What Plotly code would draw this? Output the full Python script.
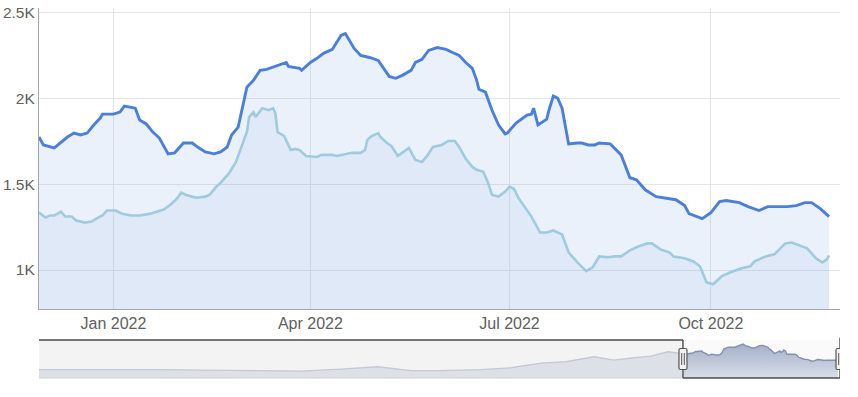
import plotly.graph_objects as go

# ---------------- data ----------------
dark_dates = [
    "2021-11-28", "2021-11-30", "2021-12-05", "2021-12-08", "2021-12-11", "2021-12-14",
    "2021-12-17", "2021-12-20", "2021-12-23", "2021-12-26", "2021-12-27", "2022-01-01",
    "2022-01-04", "2022-01-06", "2022-01-11", "2022-01-13", "2022-01-16", "2022-01-19",
    "2022-01-22", "2022-01-26", "2022-01-29", "2022-02-02", "2022-02-06", "2022-02-09",
    "2022-02-12", "2022-02-16", "2022-02-19", "2022-02-22", "2022-02-24", "2022-02-27",
    "2022-03-03", "2022-03-06", "2022-03-09", "2022-03-12", "2022-03-15", "2022-03-21",
    "2022-03-22", "2022-03-27", "2022-03-28", "2022-04-01", "2022-04-04", "2022-04-07",
    "2022-04-11", "2022-04-13", "2022-04-15", "2022-04-17", "2022-04-19", "2022-04-21",
    "2022-04-24", "2022-04-28", "2022-05-02", "2022-05-05", "2022-05-07", "2022-05-10",
    "2022-05-13", "2022-05-17", "2022-05-19", "2022-05-22", "2022-05-25", "2022-05-29",
    "2022-06-02", "2022-06-05", "2022-06-08", "2022-06-11", "2022-06-14", "2022-06-16",
    "2022-06-17", "2022-06-20", "2022-06-23", "2022-06-26", "2022-06-29", "2022-06-30",
    "2022-07-04", "2022-07-09", "2022-07-11", "2022-07-12", "2022-07-14", "2022-07-18",
    "2022-07-19", "2022-07-21", "2022-07-23", "2022-07-25", "2022-07-28", "2022-08-01",
    "2022-08-03", "2022-08-06", "2022-08-09", "2022-08-11", "2022-08-16", "2022-08-21",
    "2022-08-25", "2022-08-28", "2022-09-01", "2022-09-06", "2022-09-12", "2022-09-15",
    "2022-09-19", "2022-09-21", "2022-09-27", "2022-10-01", "2022-10-05", "2022-10-08",
    "2022-10-14", "2022-10-18", "2022-10-23", "2022-10-27", "2022-10-31", "2022-11-05",
    "2022-11-09", "2022-11-13", "2022-11-16", "2022-11-20", "2022-11-24",
]
dark_values = [
    1774, 1728, 1711, 1745, 1774, 1797,
    1786, 1797, 1844, 1884, 1907, 1907,
    1919, 1954, 1942, 1873, 1850, 1803,
    1768, 1676, 1682, 1739, 1739, 1711,
    1687, 1676, 1687, 1716, 1786, 1832,
    2064, 2104, 2162, 2168, 2180, 2208,
    2185, 2174, 2162, 2208, 2232, 2261,
    2284, 2324, 2365, 2376, 2336, 2290,
    2249, 2237, 2220, 2162, 2127, 2116,
    2133, 2162, 2208, 2226, 2278, 2295,
    2284, 2266, 2249, 2208, 2174, 2104,
    2052, 2035, 1930, 1844, 1792, 1797,
    1855, 1902, 1907, 1942, 1844, 1878,
    1930, 2012, 2000, 1942, 1734, 1739,
    1739, 1728, 1728, 1739, 1734, 1670,
    1537, 1525, 1467, 1427, 1415, 1409,
    1375, 1328, 1299, 1334, 1398, 1404,
    1392, 1369, 1346, 1369, 1369, 1369,
    1375, 1392, 1392, 1357, 1311,
]

light_dates = [
    "2021-11-28", "2021-12-01", "2021-12-03", "2021-12-05", "2021-12-08", "2021-12-10",
    "2021-12-13", "2021-12-15", "2021-12-19", "2021-12-22", "2021-12-25", "2021-12-27",
    "2021-12-29", "2022-01-02", "2022-01-05", "2022-01-09", "2022-01-13", "2022-01-18",
    "2022-01-21", "2022-01-24", "2022-01-27", "2022-01-30", "2022-02-01", "2022-02-03",
    "2022-02-06", "2022-02-08", "2022-02-12", "2022-02-14", "2022-02-17", "2022-02-19",
    "2022-02-23", "2022-02-26", "2022-02-28", "2022-03-03", "2022-03-04", "2022-03-06",
    "2022-03-07", "2022-03-10", "2022-03-13", "2022-03-15", "2022-03-16", "2022-03-17",
    "2022-03-20", "2022-03-23", "2022-03-25", "2022-03-27", "2022-03-30", "2022-04-02",
    "2022-04-04", "2022-04-06", "2022-04-11", "2022-04-13", "2022-04-16", "2022-04-20",
    "2022-04-24", "2022-04-26", "2022-04-27", "2022-04-29", "2022-05-02", "2022-05-03",
    "2022-05-06", "2022-05-08", "2022-05-11", "2022-05-13", "2022-05-16", "2022-05-19",
    "2022-05-22", "2022-05-24", "2022-05-27", "2022-05-31", "2022-06-03", "2022-06-06",
    "2022-06-08", "2022-06-11", "2022-06-14", "2022-06-16", "2022-06-19", "2022-06-21",
    "2022-06-23", "2022-06-26", "2022-06-29", "2022-07-01", "2022-07-03", "2022-07-05",
    "2022-07-08", "2022-07-11", "2022-07-15", "2022-07-18", "2022-07-21", "2022-07-25",
    "2022-07-28", "2022-07-30", "2022-08-01", "2022-08-05", "2022-08-08", "2022-08-11",
    "2022-08-15", "2022-08-18", "2022-08-21", "2022-08-25", "2022-08-28", "2022-09-02",
    "2022-09-04", "2022-09-08", "2022-09-12", "2022-09-14", "2022-09-19", "2022-09-23",
    "2022-09-26", "2022-09-29", "2022-10-02", "2022-10-06", "2022-10-10", "2022-10-15",
    "2022-10-19", "2022-10-21", "2022-10-26", "2022-10-30", "2022-11-04", "2022-11-07",
    "2022-11-09", "2022-11-14", "2022-11-18", "2022-11-21", "2022-11-23", "2022-11-24",
]
light_values = [
    1334, 1305, 1317, 1317, 1340, 1311,
    1311, 1288, 1276, 1282, 1305, 1317,
    1346, 1346, 1328, 1317, 1317, 1328,
    1340, 1352, 1380, 1415, 1450, 1438,
    1427, 1421, 1427, 1438, 1485, 1508,
    1566, 1629, 1699, 1803, 1890, 1919,
    1890, 1942, 1930, 1942, 1913, 1803,
    1780, 1699, 1705, 1699, 1664, 1658,
    1658, 1670, 1670, 1664, 1670, 1682,
    1682, 1699, 1757, 1780, 1797, 1774,
    1739, 1722, 1664, 1682, 1711, 1641,
    1629, 1658, 1716, 1728, 1751, 1751,
    1716, 1647, 1600, 1583, 1572, 1514,
    1438, 1427, 1456, 1485, 1473, 1421,
    1363, 1311, 1218, 1218, 1230, 1207,
    1103, 1074, 1044, 993, 1016, 1079,
    1074, 1079, 1079, 1114, 1132, 1155,
    1155, 1120, 1103, 1079, 1068, 1050,
    1022, 929, 917, 964, 987, 1010,
    1022, 1050, 1079, 1091, 1155, 1160,
    1149, 1126, 1068, 1044, 1062, 1085,
]

# navigator history (earlier part of the first series, read from the navigator strip)
nav_hist_dates = [
    "2017-10-19", "2018-01-25", "2018-04-28", "2018-07-30", "2018-10-31", "2019-02-02",
    "2019-05-06", "2019-06-22", "2019-09-23", "2019-12-18", "2020-03-04", "2020-05-13",
    "2020-08-14", "2020-10-23", "2021-01-01", "2021-02-28", "2021-05-05", "2021-06-20",
    "2021-08-06", "2021-09-14", "2021-10-24",
]
nav_hist_values = [
    779, 779, 810, 779, 748, 716,
    716, 685, 810, 954, 716, 716,
    779, 892, 1186, 1267, 1580, 1374,
    1518, 1624, 1893,
]

view_start = "2021-11-28"
view_end = "2022-11-29"
nav_start = "2017-10-19"

y_tick_vals = [1000, 1500, 2000, 2500]
y_tick_text = ["1K", "1.5K", "2K", "2.5K"]
x_tick_vals = ["2022-01-01", "2022-04-01", "2022-07-01", "2022-10-01"]
x_tick_text = ["Jan 2022", "Apr 2022", "Jul 2022", "Oct 2022"]

FONT = "Liberation Sans, Arial, sans-serif"

fig = go.Figure()

# main series
fig.add_trace(go.Scatter(
    x=dark_dates, y=dark_values, mode="lines",
    line=dict(color="#4a7fdc", width=2.9),
    fill="tozeroy", fillcolor="rgba(120,160,230,0.15)",
    hoverinfo="skip", showlegend=False,
))
fig.add_trace(go.Scatter(
    x=light_dates, y=light_values, mode="lines",
    line=dict(color="#9fcbdd", width=2.6),
    fill="tozeroy", fillcolor="rgba(120,165,220,0.10)",
    hoverinfo="skip", showlegend=False,
))

# navigator: unselected history, then the selected window
fig.add_trace(go.Scatter(
    x=nav_hist_dates + [dark_dates[0]], y=nav_hist_values + [dark_values[0]],
    mode="lines", xaxis="x2", yaxis="y2",
    line=dict(color="#c4c9d3", width=1.3),
    fill="tozeroy", fillcolor="#dde0e7",
    hoverinfo="skip", showlegend=False,
))
fig.add_trace(go.Scatter(
    x=dark_dates, y=dark_values,
    mode="lines", xaxis="x2", yaxis="y2",
    line=dict(color="#8391b0", width=1.4),
    fill="tozeroy",
    fillgradient=dict(type="vertical",
                      colorscale=[[0, "#dde2ec"], [1, "#a5b1ca"]]),
    hoverinfo="skip", showlegend=False,
))

OUT = "#4d4d4d"
shapes = [
    # navigator backgrounds
    dict(type="rect", xref="x2", yref="y2 domain", x0=nav_start, x1=view_start,
         y0=0, y1=1, fillcolor="#f3f3f3", line=dict(width=0), layer="below"),
    dict(type="rect", xref="x2", yref="y2 domain", x0=view_start, x1=view_end,
         y0=0, y1=1, fillcolor="#fafafa", line=dict(width=0), layer="below"),
    dict(type="line", xref="x2", yref="y2 domain", x0=nav_start, x1=view_start,
         y0=0, y1=0, line=dict(color="#d0d0d0", width=1)),
    # navigator outline
    dict(type="line", xref="x2", yref="y2 domain", x0=nav_start, x1=view_start,
         y0=1, y1=1, line=dict(color=OUT, width=1.4)),
    dict(type="line", xref="x2", yref="y2 domain", x0=view_start, x1=view_start,
         y0=1, y1=0, line=dict(color=OUT, width=1.4)),
    dict(type="line", xref="x2", yref="y2 domain", x0=view_start, x1=view_end,
         y0=0, y1=0, line=dict(color=OUT, width=1.4)),
    dict(type="line", xref="x2", yref="y2 domain", x0=view_end, x1=view_end,
         y0=0, y1=1.06, line=dict(color=OUT, width=1.4)),
]
handle_body = ("M -2.5,-10.5 L 2.5,-10.5 Q 4,-10.5 4,-9 L 4,9 Q 4,10.5 2.5,10.5 "
               "L -2.5,10.5 Q -4,10.5 -4,9 L -4,-9 Q -4,-10.5 -2.5,-10.5 Z")
handle_grip = "M -1.3,-6 L -1.3,6 M 1.3,-6 L 1.3,6"
for hx in (view_start, view_end):
    shapes.append(dict(type="path", xref="x2", yref="y2 domain",
                       xsizemode="pixel", ysizemode="pixel", xanchor=hx, yanchor=0.5,
                       path=handle_body, fillcolor="#f2f2f2",
                       line=dict(color="#555555", width=1.2)))
    shapes.append(dict(type="path", xref="x2", yref="y2 domain",
                       xsizemode="pixel", ysizemode="pixel", xanchor=hx, yanchor=0.5,
                       path=handle_grip, line=dict(color="#555555", width=1)))

fig.update_layout(
    width=858, height=397,
    margin=dict(l=39, r=18, t=8, b=19, autoexpand=False),
    paper_bgcolor="white", plot_bgcolor="white",
    font=dict(family=FONT, size=16, color="#606060"),
    shapes=shapes,
    xaxis=dict(
        type="date", range=[view_start, view_end], domain=[0, 1], anchor="y",
        tickvals=x_tick_vals, ticktext=x_tick_text, automargin=False,
        showgrid=True, gridcolor="#e6e6e6", gridwidth=1,
        showline=True, linecolor="#a6a6a6", linewidth=1.2,
        ticks="", zeroline=False, fixedrange=True,
        tickfont=dict(family=FONT, size=16, color="#606060"),
    ),
    yaxis=dict(
        range=[773, 2525], domain=[0.1865, 1], anchor="x",
        tickvals=y_tick_vals, ticktext=y_tick_text, automargin=False,
        showgrid=True, gridcolor="#e6e6e6", gridwidth=1,
        showline=True, linecolor="#a6a6a6", linewidth=1.2,
        ticks="", zeroline=False, fixedrange=True,
        tickfont=dict(family=FONT, size=15.5, color="#606060"),
    ),
    xaxis2=dict(
        type="date", range=[nav_start, view_end], domain=[0, 1], anchor="y2",
        showgrid=False, showticklabels=False, zeroline=False, showline=False,
        fixedrange=True, automargin=False,
    ),
    yaxis2=dict(
        range=[250, 2630], domain=[0, 0.1027], anchor="x2",
        showgrid=False, showticklabels=False, zeroline=False, showline=False,
        fixedrange=True, automargin=False,
    ),
)

fig.write_html(
    "out.html",
    config={"displayModeBar": False},
    post_script="document.body.style.margin='0';document.body.style.overflow='hidden';",
)
